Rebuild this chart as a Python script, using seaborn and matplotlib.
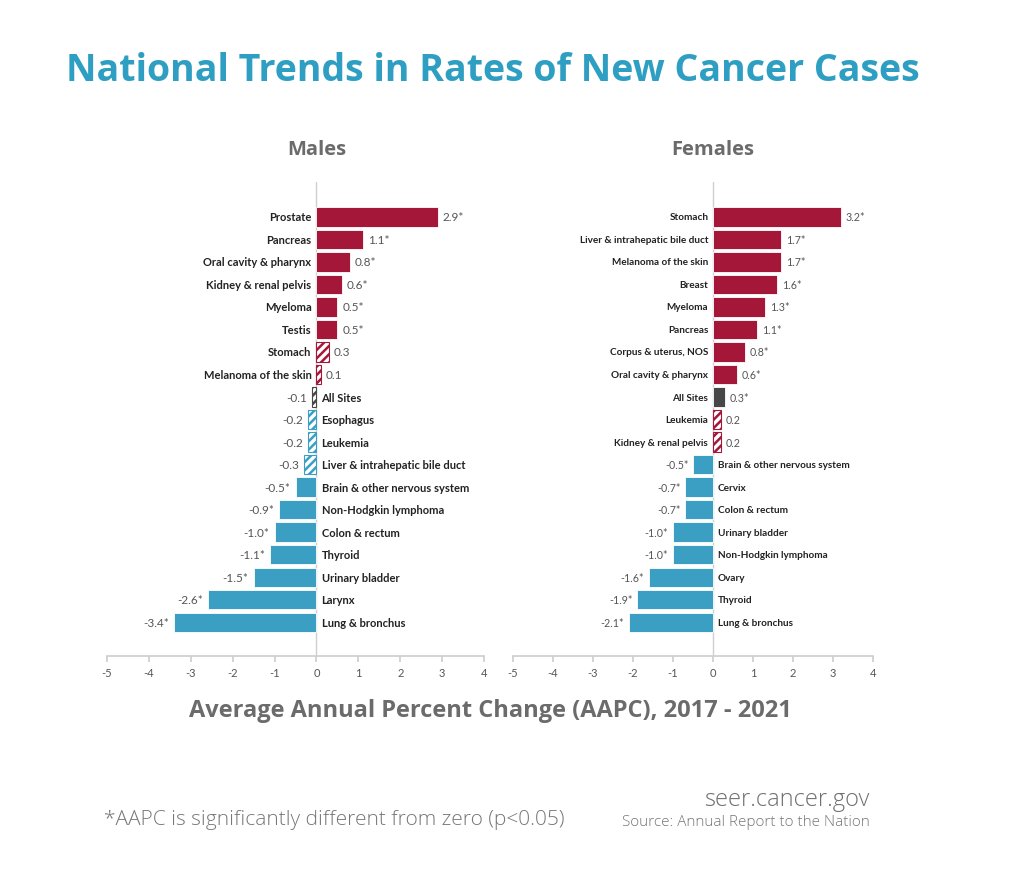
import seaborn as sns
import matplotlib.pyplot as plt
import pandas as pd

sns.set_theme(style="white")
plt.rcParams['font.family'] = ['Lato', 'DejaVu Sans']
plt.rcParams['hatch.linewidth'] = 1.8
plt.rcParams['axes.unicode_minus'] = False

# data
male_sites = ['Prostate', 'Pancreas', 'Oral cavity & pharynx', 'Kidney & renal pelvis',
              'Myeloma', 'Testis', 'Stomach', 'Melanoma of the skin', 'All Sites',
              'Esophagus', 'Leukemia', 'Liver & intrahepatic bile duct',
              'Brain & other nervous system', 'Non-Hodgkin lymphoma', 'Colon & rectum',
              'Thyroid', 'Urinary bladder', 'Larynx', 'Lung & bronchus']
male_aapc = [2.9, 1.1, 0.8, 0.6, 0.5, 0.5, 0.3, 0.1, -0.1, -0.2, -0.2, -0.3,
             -0.5, -0.9, -1.0, -1.1, -1.5, -2.6, -3.4]
male_sig = [True, True, True, True, True, True, False, False, False, False, False, False,
            True, True, True, True, True, True, True]

female_sites = ['Stomach', 'Liver & intrahepatic bile duct', 'Melanoma of the skin', 'Breast',
                'Myeloma', 'Pancreas', 'Corpus & uterus, NOS', 'Oral cavity & pharynx',
                'All Sites', 'Leukemia', 'Kidney & renal pelvis',
                'Brain & other nervous system', 'Cervix', 'Colon & rectum', 'Urinary bladder',
                'Non-Hodgkin lymphoma', 'Ovary', 'Thyroid', 'Lung & bronchus']
female_aapc = [3.2, 1.7, 1.7, 1.6, 1.3, 1.1, 0.8, 0.6, 0.3, 0.2, 0.2,
               -0.5, -0.7, -0.7, -1.0, -1.0, -1.6, -1.9, -2.1]
female_sig = [True, True, True, True, True, True, True, True, True, False, False,
              True, True, True, True, True, True, True, True]

RED = '#A51739'
BLUE = '#3B9FC4'
DARK = '#474747'
TEAL = '#2E9FC3'
GREY = '#6b6b6b'
WIDE = ['Open Sans', 'DejaVu Sans']


def draw_panel(ax, sites, vals, sig, title, fs):
    df = pd.DataFrame({'site': sites, 'aapc': vals, 'sig': sig})
    sns.barplot(data=df, x='aapc', y='site', orient='h', ax=ax, width=0.86,
                color=RED, errorbar=None)
    for patch, site, v, s in zip(ax.patches, df.site, df.aapc, df.sig):
        c = DARK if site == 'All Sites' else (RED if v > 0 else BLUE)
        if s:
            patch.set_facecolor(c)
            patch.set_edgecolor('white')
            patch.set_linewidth(0.6)
        else:
            patch.set_facecolor('white')
            patch.set_edgecolor(c)
            patch.set_hatch('////')
            patch.set_linewidth(0.8)
    for i, (site, v, s) in enumerate(zip(df.site, df.aapc, df.sig)):
        lab = f'{v:.1f}' + ('*' if s else '')
        if v > 0:
            ax.text(-0.12, i, site, ha='right', va='center', fontsize=fs,
                    fontweight='bold', color='#222222')
            ax.text(v + 0.12, i, lab, ha='left', va='center', fontsize=fs + 0.5,
                    color='#555555')
        else:
            ax.text(0.12, i, site, ha='left', va='center', fontsize=fs,
                    fontweight='bold', color='#222222')
            ax.text(v - 0.12, i, lab, ha='right', va='center', fontsize=fs + 0.5,
                    color='#555555')
    ax.axvline(0, color='#cfcfcf', lw=1, zorder=0)
    ax.set_xlim(-5, 4)
    ax.set_ylim(18 + 1.5, -1.55)
    ax.set_xticks(range(-5, 5))
    ax.set_yticks([])
    ax.set_xlabel('')
    ax.set_ylabel('')
    for sp in ['top', 'right', 'left']:
        ax.spines[sp].set_visible(False)
    ax.spines['bottom'].set_color('#cfcfcf')
    ax.tick_params(axis='x', bottom=True, length=4, color='#cfcfcf',
                   labelsize=8, labelcolor='#555555', pad=4)
    # panel title sits over the zero line
    ax.text(0, 1.07, title, transform=ax.get_xaxis_transform(), ha='center',
            va='center', fontsize=14.5, fontweight='bold', color=GREY, family=WIDE)


fig = plt.figure(figsize=(10.24, 8.7), dpi=100)
ax1 = fig.add_axes([0.1045, 0.2448, 0.3682, 0.5449])
ax2 = fig.add_axes([0.501, 0.2448, 0.3516, 0.5449])

draw_panel(ax1, male_sites, male_aapc, male_sig, 'Males', 8)
draw_panel(ax2, female_sites, female_aapc, female_sig, 'Females', 7.2)

fig.text(0.4814, 0.918, 'National Trends in Rates of New Cancer Cases', ha='center',
         va='center', fontsize=27, fontweight='bold', color=TEAL, family=WIDE)
fig.text(0.479, 0.183, 'Average Annual Percent Change (AAPC), 2017 - 2021', ha='center',
         va='center', fontsize=17, fontweight='bold', color=GREY, family=WIDE)
fig.text(0.102, 0.057, '*AAPC is significantly different from zero (p<0.05)', ha='left',
         va='center', fontsize=15, color='#777777', fontweight='light', family=WIDE)
fig.text(0.849, 0.081, 'seer.cancer.gov', ha='right', va='center', fontsize=17,
         color='#6f6f6f', fontweight='light', family=WIDE)
fig.text(0.849, 0.055, 'Source: Annual Report to the Nation', ha='right', va='center',
         fontsize=11, color='#777777', fontweight='light', family=WIDE)

fig.savefig('out.png', dpi=100, facecolor='white')
